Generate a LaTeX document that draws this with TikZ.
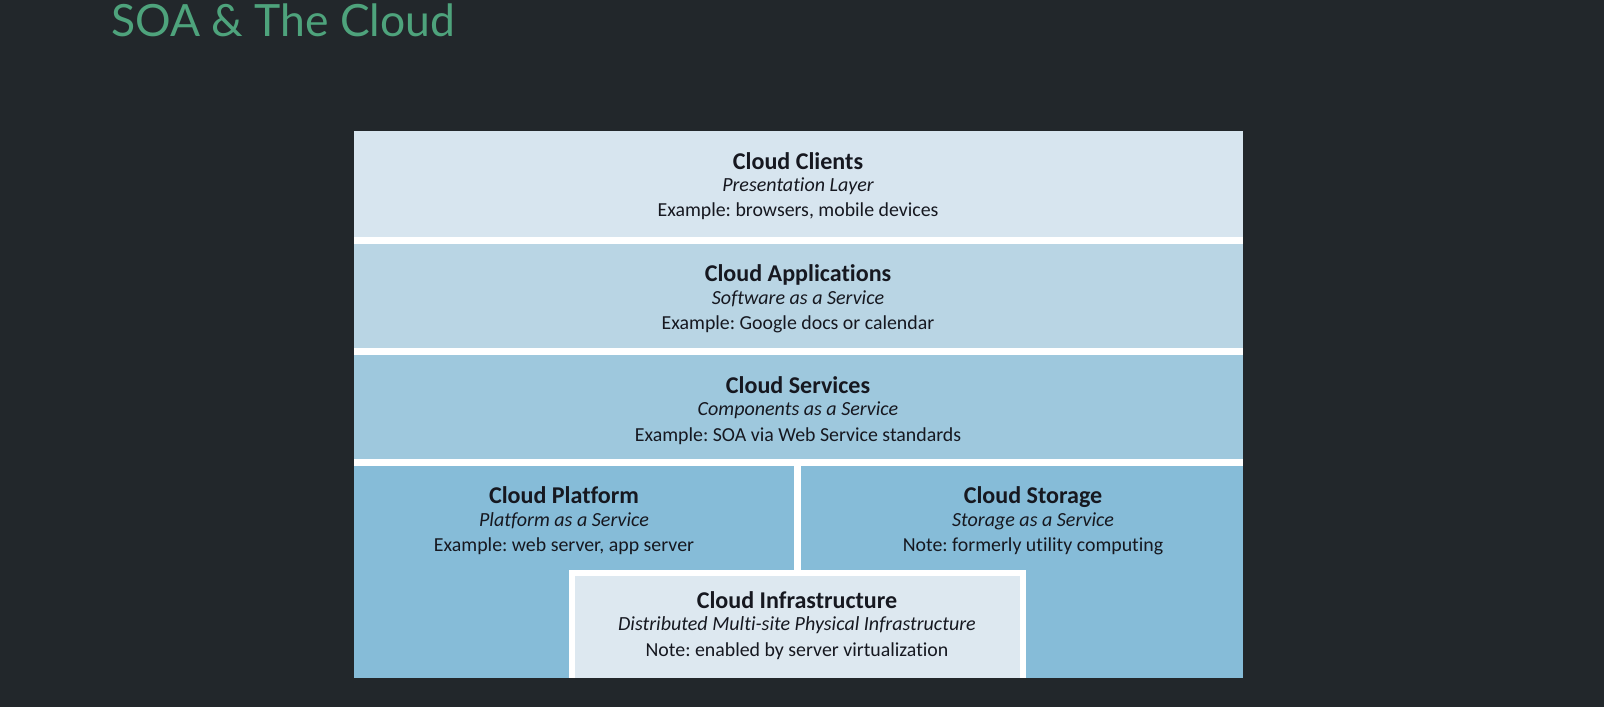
\documentclass[tikz,border=0pt]{standalone}
\usepackage{fontspec}
\setmainfont{Carlito}[Ligatures=NoCommon]
\newfontfamily\titlefont{Lato}
\frenchspacing

\definecolor{slidebg}{RGB}{34,39,43}
\definecolor{titlegreen}{RGB}{78,163,124}
\definecolor{layerink}{RGB}{22,24,32}
\definecolor{clientsfill}{RGB}{215,229,239}
\definecolor{appsfill}{RGB}{185,213,228}
\definecolor{servicesfill}{RGB}{158,200,221}
\definecolor{platformfill}{RGB}{134,188,216}
\definecolor{infrafill}{RGB}{221,232,240}

\tikzset{
  layertitle/.style={anchor=base, inner sep=0pt, text=layerink, font=\fontsize{13.7}{13.7}\selectfont\bfseries},
  layersub/.style={anchor=base, inner sep=0pt, text=layerink, font=\fontsize{11.4}{11.4}\selectfont\itshape},
  layernote/.style={anchor=base, inner sep=0pt, text=layerink, font=\fontsize{11.3}{11.3}\selectfont},
}

% three lines of one layer: name, x, title baseline, title, subtitle, note
\newcommand{\layerlabel}[6]{%
  \node[layertitle] (#1-t) at (#2,#3) {#4};
  \node[layersub] (#1-s) at ([yshift=-0.45cm]#1-t.base) {#5};
  \node[layernote] (#1-n) at ([yshift=-0.96cm]#1-t.base) {#6};
}

\begin{document}
\begin{tikzpicture}[x=0.02cm, y=-0.02cm]
    \fill[slidebg] (0,0) rectangle (1604,707);
    \useasboundingbox (0,0) rectangle (1604,707);

    \node[anchor=base west, inner sep=0pt, text=titlegreen,
          font=\titlefont\fontsize{25.3}{25.3}\selectfont] (title) at (111,36) {SOA \& The Cloud};

    % the layers
    \fill[white] (354,131) rectangle (1243,678);
    \fill[clientsfill] (354,131) rectangle (1243,237);
    \fill[appsfill] (354,243.5) rectangle (1243,348);
    \fill[servicesfill] (354,355) rectangle (1243,459);
    \fill[platformfill] (354,465.5) rectangle (794,678);
    \fill[platformfill] (801,465.5) rectangle (1243,678);
    \fill[white] (569,570) rectangle (1026,678);
    \fill[infrafill] (575,576) rectangle (1020,678);

    \layerlabel{clients}{798}{169}{Cloud Clients}{Presentation Layer}{Example: browsers, mobile devices}
    \layerlabel{apps}{798}{281.5}{Cloud Applications}{Software as a Service}{Example: Google docs or calendar}
    \layerlabel{services}{798}{393}{Cloud Services}{Components as a Service}{Example: SOA via Web Service standards}
    \layerlabel{platform}{564}{503.5}{Cloud Platform}{Platform as a Service}{Example: web server, app server}
    \layerlabel{storage}{1033}{503.5}{Cloud Storage}{Storage as a Service}{Note: formerly utility computing}
    \layerlabel{infra}{797}{608}{Cloud Infrastructure}{Distributed Multi-site Physical Infrastructure}{Note: enabled by server virtualization}
\end{tikzpicture}
\end{document}
